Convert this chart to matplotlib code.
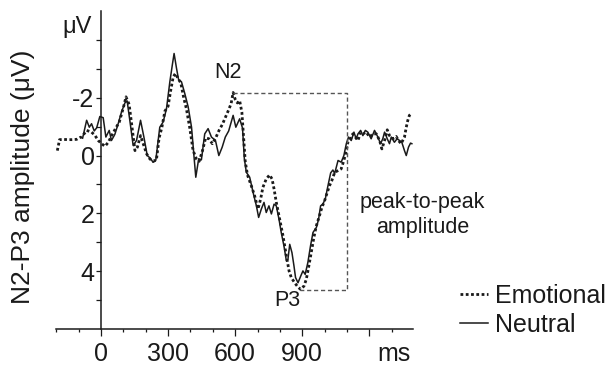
#!/usr/bin/env python3
"""N2-P3 peak-to-peak ERP waveforms, emotional vs neutral."""

import matplotlib
matplotlib.use("Agg")
import matplotlib.pyplot as plt
import numpy as np
from matplotlib.ticker import FixedLocator, MultipleLocator

plt.rcParams["font.family"] = ["Liberation Sans", "DejaVu Sans"]

# (time ms, amplitude uV); negative is plotted upwards
NEUTRAL = [
    (-82, -0.60), (-64, -1.22), (-52, -0.98), (-42, -1.10), (-30, -0.85),
    (-19, -0.96), (-5, -1.35), (10, -1.31), (22, -0.64), (37, -0.87),
    (47, -0.52), (62, -0.73), (77, -1.10), (92, -1.51), (107, -1.82),
    (117, -1.89), (129, -1.22), (144, -0.35), (159, -0.52), (177, -1.22),
    (192, -0.64), (207, 0.00), (219, 0.08), (233, 0.23), (245, 0.17),
    (263, -0.98), (278, -1.16), (293, -1.62), (308, -2.55), (320, -3.18),
    (327, -3.53), (338, -3.01), (347, -2.63), (360, -2.55), (375, -2.14),
    (390, -1.68), (405, -0.98), (415, -0.06), (424, 0.75), (437, 0.11),
    (449, 0.15), (464, -0.75), (479, -0.93), (494, -0.64), (512, -0.52),
    (527, 0.00), (542, -0.29), (556, -0.64), (571, -0.85), (591, -1.39),
    (603, -0.98), (620, -1.27), (633, -0.95), (641, 0.10), (650, 0.58),
    (665, 0.75), (680, 1.27), (695, 1.74), (705, 2.14), (717, 1.85),
    (729, 1.62), (739, 1.97), (751, 1.74), (762, 2.02), (774, 1.68),
    (784, 1.74), (796, 2.20), (806, 2.66), (818, 3.12), (829, 3.64),
    (836, 3.59), (844, 3.07), (854, 3.36), (863, 3.82), (870, 4.22),
    (881, 4.40), (893, 4.17), (903, 3.99), (913, 4.11), (925, 3.70),
    (937, 3.12), (948, 2.66), (963, 2.49), (973, 2.20), (982, 1.74),
    (992, 1.68), (1003, 1.50), (1015, 1.04), (1027, 0.60), (1037, 0.50),
    (1045, 0.62), (1060, 0.17), (1074, 0.23), (1086, 0.00), (1097, -0.41),
    (1107, -0.64), (1119, -0.52), (1131, -0.81), (1141, -0.58), (1149, -0.75),
    (1161, -0.87), (1171, -0.69), (1182, -0.87), (1193, -0.81), (1208, -0.58),
    (1223, -0.87), (1238, -0.64), (1250, -0.41), (1260, -0.58), (1268, -0.81),
    (1280, -0.58), (1290, -0.41), (1298, -0.64), (1312, -0.46), (1324, -0.58),
    (1335, -0.52), (1345, -0.46), (1357, -0.17), (1365, 0.00), (1375, -0.29),
    (1384, -0.43), (1390, -0.41),
]

EMOTIONAL = [
    (-195, -0.17), (-185, -0.55), (-168, -0.56), (-150, -0.55), (-130, -0.55),
    (-109, -0.56), (-95, -0.62), (-86, -0.64), (-64, -0.87), (-42, -0.81),
    (-27, -0.70), (-12, -0.52), (3, -0.41), (18, -0.32), (33, -0.46),
    (48, -0.69), (62, -0.89), (82, -1.16), (100, -1.65), (112, -2.03),
    (126, -1.77), (138, -1.04), (152, -0.17), (163, -0.29), (177, -0.69),
    (189, -0.41), (204, -0.06), (219, 0.12), (233, 0.20), (248, 0.15),
    (260, -0.61), (272, -0.96), (286, -1.54), (300, -1.70), (312, -2.26),
    (323, -2.72), (333, -2.84), (345, -2.66), (357, -2.51), (370, -2.00),
    (382, -1.62), (397, -0.96), (412, -0.17), (427, 0.12), (439, 0.20),
    (454, -0.17), (468, -0.61), (483, -0.58), (498, -0.41), (513, -0.61),
    (528, -0.87), (543, -1.08), (558, -1.35), (572, -1.60), (582, -1.80),
    (591, -2.18), (600, -1.95), (610, -1.82), (620, -1.90), (630, -1.50),
    (638, -0.60), (645, 0.20), (655, 0.67), (672, 1.04), (687, 1.39),
    (702, 1.85), (714, 1.50), (724, 1.10), (739, 0.81), (754, 0.67),
    (765, 0.81), (774, 1.16), (784, 1.62), (799, 2.20), (814, 2.78),
    (829, 3.47), (841, 3.99), (851, 4.22), (866, 4.40), (881, 4.55),
    (893, 4.63), (908, 4.51), (918, 4.28), (928, 3.88), (940, 3.36),
    (952, 2.83), (963, 2.43), (977, 2.08), (988, 1.79), (1000, 1.56),
    (1012, 1.27), (1022, 1.04), (1032, 0.87), (1045, 0.58), (1060, 0.52),
    (1074, 0.46), (1086, 0.17), (1097, -0.17), (1104, -0.46), (1116, -0.58),
    (1126, -0.75), (1137, -0.64), (1149, -0.52), (1161, -0.81), (1171, -0.75),
    (1186, -0.81), (1201, -0.64), (1216, -0.75), (1231, -0.75), (1246, -0.52),
    (1256, -0.23), (1268, -0.52), (1280, -0.89), (1290, -0.69), (1305, -0.58),
    (1320, -0.66), (1330, -0.52), (1342, -0.41), (1357, -0.64), (1365, -0.98),
    (1372, -1.22), (1379, -1.39), (1390, -1.47),
]

# peak-to-peak bracket: N2 peak, P3 peak, right edge (ms, uV)
N2_PEAK = (591, -2.18)
P3_PEAK = (888, 4.65)
BRACKET_X = 1100

X_MAJOR = [0, 300, 600, 900, 1200]
X_LABELS = ["0", "300", "600", "900", ""]
Y_TICKS = [-4, -3, -2, -1, 0, 1, 2, 3, 4, 5]
Y_LABELS = ["", "", "-2", "", "0", "", "2", "", "4", ""]

INK = "#1a1a1a"


def main():
    fig = plt.figure(figsize=(6.13, 3.66), dpi=100)
    ax = fig.add_axes([0.0917, 0.101, 0.582, 0.869])

    neu = np.array(NEUTRAL)
    emo = np.array(EMOTIONAL)
    l_emo, = ax.plot(emo[:, 0], emo[:, 1], color=INK, lw=2.0,
                     linestyle=(0, (1.0, 0.9)), dash_capstyle="butt")
    l_neu, = ax.plot(neu[:, 0], neu[:, 1], color=INK, lw=1.1)

    # bracket (dashed) from N2 peak to P3 peak
    ax.plot([N2_PEAK[0], BRACKET_X, BRACKET_X, P3_PEAK[0]],
            [N2_PEAK[1], N2_PEAK[1], P3_PEAK[1], P3_PEAK[1]],
            color="#555555", lw=1.0, linestyle=(0, (3, 2)))

    ax.set_xlim(-200, 1395)
    ax.set_ylim(6, -5)

    for s in ("top", "right"):
        ax.spines[s].set_visible(False)
    ax.spines["left"].set_position(("data", 0))
    for s in ("left", "bottom"):
        ax.spines[s].set_linewidth(1.1)
        ax.spines[s].set_color(INK)

    ax.xaxis.set_major_locator(FixedLocator(X_MAJOR))
    ax.set_xticklabels(X_LABELS)
    ax.xaxis.set_minor_locator(MultipleLocator(100))
    ax.set_yticks(Y_TICKS)
    ax.set_yticklabels(Y_LABELS)
    ax.tick_params(axis="x", which="major", length=4.7, width=0.9,
                   colors=INK, labelsize=18, pad=4.5)
    ax.tick_params(axis="x", which="minor", length=2.5, width=0.9, colors=INK)
    ax.tick_params(axis="y", length=3.6, width=0.9, colors=INK,
                   labelsize=18, pad=1)

    # unit label sits in the tick-label row
    ax.annotate("ms", xy=(1312, 6), xytext=(0, -9.2), textcoords="offset points",
                fontsize=18, color=INK, ha="center", va="top",
                annotation_clip=False)
    ax.text(-107, -4.43, "\u03bcV", fontsize=17, color=INK,
            ha="center", va="center")
    ax.text(567, -2.88, "N2", fontsize=15.5, color=INK, ha="center", va="center")
    ax.text(835, 5.0, "P3", fontsize=15.5, color=INK, ha="center", va="center")
    ax.text(1438, 2.05, "peak-to-peak\namplitude", fontsize=15.5, color=INK,
            ha="center", va="center", multialignment="center",
            linespacing=1.25, clip_on=False)

    fig.text(23 / 613, 1 - 177 / 366, "N2-P3 amplitude (\u03bcV)",
             rotation=90, fontsize=19, color=INK, ha="center", va="center")

    ax.legend([l_emo, l_neu], ["Emotional", "Neutral"],
              loc="upper left", bbox_to_anchor=(460 / 613, 1 - 284 / 366),
              bbox_transform=fig.transFigure, frameon=False, fontsize=18,
              handlelength=1.1, handletextpad=0.3, labelspacing=0.2,
              borderpad=0, borderaxespad=0, labelcolor=INK)

    fig.savefig("out.png", dpi=100)


if __name__ == "__main__":
    main()
